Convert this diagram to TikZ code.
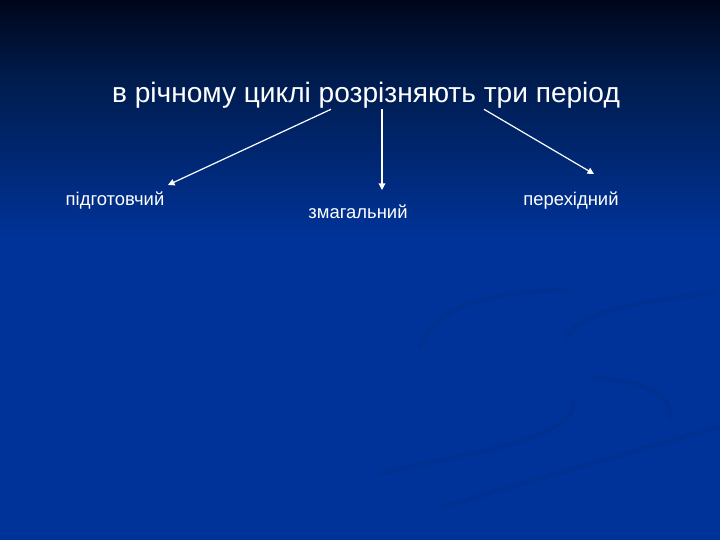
\documentclass[tikz,border=0pt]{standalone}
\usepackage{fontspec}
\setmainfont{Liberation Sans}
\usetikzlibrary{arrows.meta,calc}

\definecolor{bgtop}{HTML}{00061A}
\definecolor{bgmid}{HTML}{001C4E}
\definecolor{bgblue}{HTML}{003399}
\definecolor{swirl}{HTML}{003190}

\begin{document}
\begin{tikzpicture}[x=1bp,y=-1bp,
    heading/.style ={text=white, font=\fontsize{28.2}{32}\selectfont, inner sep=1bp},
    period/.style ={text=white, font=\fontsize{18.5}{22}\selectfont, inner sep=2bp},
    pointer/.style ={draw=white, line width=1.2bp, -{Triangle[width=6.5bp,length=6.5bp]}},
    swirly/.style ={draw=swirl, line width=4.5bp, line cap=round}]
   % background
   \useasboundingbox (0,0) rectangle (720,540);
   \fill[top color=bgtop, bottom color=bgmid] (0,0) rectangle (720,80);
   \fill[top color=bgmid, bottom color=bgblue] (0,79.5) rectangle (720,240);
   \fill[bgblue] (0,239.5) rectangle (720,540);
   \draw[swirly] (420,347) .. controls (440,300) and (500,292) .. (567,290);
   \draw[swirly] (567,337) .. controls (580,310) and (650,300) .. (713,293);
   \draw[swirly] (380,473) .. controls (460,455) and (575,440) .. (573,403);
   \draw[swirly] (443,507) .. controls (540,478) and (640,450) .. (717,427);
   \draw[swirly] (593,377) .. controls (640,382) and (672,392) .. (670,417);

   \node[heading] (title) at (366,95) {в річному циклі розрізняють три період};
   \node[period] (prep)  at (115,200) {підготовчий};
   \node[period] (comp)  at (358,212) {змагальний};
   \node[period] (trans) at (571,201) {перехідний};

   \coordinate (a1) at (168,185);
   \coordinate (a2) at (382,190);
   \coordinate (a3) at (594,174);

   \draw[pointer] (title.south -| 331,0) to (a1);
   \draw[pointer] (title.south -| a2) to (a2);
   \draw[pointer] (title.south -| 484,0) to (a3);
 \end{tikzpicture}
\end{document}
